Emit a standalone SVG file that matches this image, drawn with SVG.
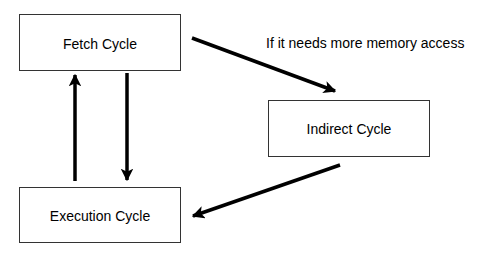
<svg xmlns="http://www.w3.org/2000/svg" width="486" height="260" viewBox="0 0 486 260">
<style>
.box{fill:#fff;stroke:#333;stroke-width:1}
.t{font-family:"Liberation Sans",Arial,sans-serif;font-size:14px;fill:#000}
.c{stroke:#000;stroke-width:3.5;fill:none}
</style>
<defs>
<marker id="ah" viewBox="0 0 10 10" refX="9" refY="5" markerWidth="3.6" markerHeight="3.6" orient="auto" markerUnits="strokeWidth">
<path d="M0,0 L10,5 L0,10 L2.5,5 Z" fill="#000"/>
</marker>
</defs>
<rect width="486" height="260" fill="#fff"/>
<g id="fetch"><rect class="box" x="19.5" y="14.5" width="161" height="56"/><text class="t" x="100" y="49" text-anchor="middle">Fetch Cycle</text></g>
<g id="indirect"><rect class="box" x="268.5" y="100.5" width="161" height="56"/><text class="t" x="349" y="134" text-anchor="middle">Indirect Cycle</text></g>
<g id="execution"><rect class="box" x="19.5" y="187.5" width="161" height="55"/><text class="t" x="100" y="221" text-anchor="middle">Execution Cycle</text></g>
<g id="connectors">
<line class="c" x1="75" y1="181" x2="75" y2="75" marker-end="url(#ah)"/>
<line class="c" x1="127" y1="73" x2="127" y2="180" marker-end="url(#ah)"/>
<line class="c" x1="192" y1="38" x2="335" y2="91" marker-end="url(#ah)"/>
<line class="c" x1="340" y1="165" x2="193" y2="216" marker-end="url(#ah)"/>
</g>
<text class="t" x="266" y="48">If it needs more memory access</text>
</svg>
